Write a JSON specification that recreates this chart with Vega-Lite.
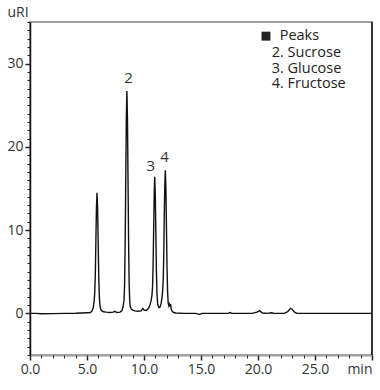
{
  "$schema": "https://vega.github.io/schema/vega-lite/v6.json",
  "width": 342,
  "height": 333,
  "autosize": "none",
  "padding": {"left": 30, "top": 22, "right": 8, "bottom": 35},
  "config": {
    "view": {"stroke": "#a0a0a0", "strokeWidth": 2},
    "font": "Open Sans",
    "axis": {"grid": false, "labelFont": "Open Sans", "labelFontSize": 14, "labelColor": "#333", "tickColor": "#222", "titleFont": "Open Sans"}
  },
  "datasets": {
    "trace": [
      {"t": 0.0, "v": 0.0}, {"t": 0.5, "v": 0.0}, {"t": 1.0, "v": -0.05}, {"t": 2.0, "v": -0.03}, {"t": 3.0, "v": 0.0},
      {"t": 4.0, "v": 0.02}, {"t": 4.5, "v": 0.05}, {"t": 5.0, "v": 0.08}, {"t": 5.3, "v": 0.1},
      {"t": 5.45, "v": 0.3}, {"t": 5.55, "v": 0.7}, {"t": 5.63, "v": 1.5}, {"t": 5.68, "v": 2.5}, {"t": 5.73, "v": 4.7},
      {"t": 5.78, "v": 8.8}, {"t": 5.83, "v": 12.8}, {"t": 5.88, "v": 14.5}, {"t": 5.93, "v": 12.6}, {"t": 5.98, "v": 8.5},
      {"t": 6.03, "v": 4.5}, {"t": 6.08, "v": 2.1}, {"t": 6.13, "v": 1.0}, {"t": 6.2, "v": 0.5}, {"t": 6.3, "v": 0.3},
      {"t": 6.45, "v": 0.2}, {"t": 6.7, "v": 0.15}, {"t": 7.0, "v": 0.1}, {"t": 7.3, "v": 0.15}, {"t": 7.45, "v": 0.25},
      {"t": 7.6, "v": 0.1}, {"t": 7.9, "v": 0.15}, {"t": 8.05, "v": 0.3}, {"t": 8.15, "v": 0.7}, {"t": 8.25, "v": 1.6},
      {"t": 8.3, "v": 3.6}, {"t": 8.35, "v": 8.7}, {"t": 8.4, "v": 16.2}, {"t": 8.45, "v": 23.5}, {"t": 8.5, "v": 26.7},
      {"t": 8.55, "v": 23.3}, {"t": 8.6, "v": 15.8}, {"t": 8.65, "v": 8.3}, {"t": 8.7, "v": 3.5}, {"t": 8.75, "v": 1.4},
      {"t": 8.8, "v": 0.8}, {"t": 8.9, "v": 0.5}, {"t": 9.0, "v": 0.4}, {"t": 9.2, "v": 0.3}, {"t": 9.5, "v": 0.25},
      {"t": 9.75, "v": 0.3}, {"t": 9.9, "v": 0.6}, {"t": 10.0, "v": 0.4}, {"t": 10.2, "v": 0.35}, {"t": 10.4, "v": 0.6},
      {"t": 10.52, "v": 1.0}, {"t": 10.62, "v": 1.5}, {"t": 10.7, "v": 2.2}, {"t": 10.75, "v": 3.2}, {"t": 10.8, "v": 5.8},
      {"t": 10.85, "v": 10.3}, {"t": 10.9, "v": 14.6}, {"t": 10.94, "v": 16.4}, {"t": 10.99, "v": 14.3}, {"t": 11.04, "v": 9.6},
      {"t": 11.09, "v": 5.0}, {"t": 11.14, "v": 2.3}, {"t": 11.2, "v": 1.1}, {"t": 11.3, "v": 0.7}, {"t": 11.4, "v": 0.75},
      {"t": 11.5, "v": 1.2}, {"t": 11.58, "v": 1.9}, {"t": 11.64, "v": 2.8}, {"t": 11.69, "v": 4.2}, {"t": 11.73, "v": 6.6},
      {"t": 11.77, "v": 10.8}, {"t": 11.82, "v": 15.2}, {"t": 11.87, "v": 17.2}, {"t": 11.92, "v": 15.1}, {"t": 11.97, "v": 10.3},
      {"t": 12.02, "v": 5.5}, {"t": 12.07, "v": 2.6}, {"t": 12.12, "v": 1.3}, {"t": 12.18, "v": 0.9}, {"t": 12.24, "v": 1.1},
      {"t": 12.28, "v": 0.8}, {"t": 12.33, "v": 1.1}, {"t": 12.38, "v": 0.6}, {"t": 12.45, "v": 0.3}, {"t": 12.6, "v": 0.1},
      {"t": 12.8, "v": 0.05}, {"t": 13.5, "v": 0.0}, {"t": 14.5, "v": 0.0}, {"t": 14.9, "v": -0.12}, {"t": 15.1, "v": 0.0},
      {"t": 16.0, "v": 0.0}, {"t": 17.4, "v": 0.0}, {"t": 17.55, "v": 0.1}, {"t": 17.7, "v": 0.0}, {"t": 19.5, "v": 0.0},
      {"t": 19.9, "v": 0.15}, {"t": 20.15, "v": 0.3}, {"t": 20.4, "v": 0.05}, {"t": 20.8, "v": 0.0}, {"t": 21.2, "v": 0.08},
      {"t": 21.4, "v": 0.0}, {"t": 22.3, "v": 0.0}, {"t": 22.6, "v": 0.2}, {"t": 22.85, "v": 0.6}, {"t": 23.0, "v": 0.5},
      {"t": 23.2, "v": 0.15}, {"t": 23.4, "v": 0.0}, {"t": 26.0, "v": 0.0}, {"t": 30.0, "v": 0.0}
    ],
    "peaklabels": [
      {"t": 8.65, "v": 28.3, "label": "2"},
      {"t": 10.6, "v": 17.7, "label": "3"},
      {"t": 11.8, "v": 18.8, "label": "4"}
    ],
    "legend": [
      {"t": 21.9, "v": 33.3, "label": "Peaks"},
      {"t": 21.2, "v": 31.3, "label": "2. Sucrose"},
      {"t": 21.2, "v": 29.4, "label": "3. Glucose"},
      {"t": 21.2, "v": 27.5, "label": "4. Fructose"}
    ],
    "legendbox": [{"t": 20.7, "v": 33.3}],
    "border": [{"t": 30}]
  },
  "layer": [
    {
      "data": {"name": "trace"},
      "mark": {"type": "line", "color": "#111", "strokeWidth": 1.4},
      "encoding": {
        "x": {"field": "t", "type": "quantitative", "scale": {"domain": [0, 30], "nice": false, "zero": false},
              "axis": {"orient": "bottom", "title": null, "values": [0, 5, 10, 15, 20, 25, 30], "labelExpr": "datum.value == 30 ? 'min' : format(datum.value, '.1f')", "labelAlign": {"condition": {"test": "datum.value == 30", "value": "right"}, "value": "center"}, "tickSize": 5, "tickWidth": 1.5, "domainColor": "#a0a0a0", "domainWidth": 2, "labelPadding": 2, "labelFlush": false}},
        "y": {"field": "v", "type": "quantitative", "scale": {"domain": [-5, 35], "nice": false, "zero": false},
              "axis": {"orient": "left", "title": "uRI", "titleAngle": 0, "titleAlign": "left", "titleBaseline": "alphabetic", "titleX": -23, "titleY": -6, "titleFontSize": 14, "titleFontWeight": "normal", "titleColor": "#333", "values": [0, 10, 20, 30], "tickSize": 5, "tickWidth": 1.5, "domainColor": "#111", "domainWidth": 1.5, "labelPadding": 2}}
      }
    },
    {
      "data": {"name": "border"},
      "mark": {"type": "rule", "color": "#111", "strokeWidth": 1.5},
      "encoding": {
        "x": {"field": "t", "type": "quantitative",
              "axis": {"orient": "bottom", "title": null, "values": [0,1,2,3,4,5,6,7,8,9,10,11,12,13,14,15,16,17,18,19,20,21,22,23,24,25,26,27,28,29,30], "labels": false, "domain": false, "tickSize": 3}}
      }
    },
    {
      "data": {"name": "peaklabels"},
      "mark": {"type": "text", "fontSize": 15, "color": "#333", "baseline": "middle", "align": "center"},
      "encoding": {
        "x": {"field": "t", "type": "quantitative", "axis": null},
        "y": {"field": "v", "type": "quantitative",
              "axis": {"orient": "left", "title": null, "values": [-5,-4,-3,-2,-1,0,1,2,3,4,5,6,7,8,9,10,11,12,13,14,15,16,17,18,19,20,21,22,23,24,25,26,27,28,29,30,31,32,33,34,35], "labels": false, "domain": false, "tickSize": 3}},
        "text": {"field": "label"}
      }
    },
    {
      "data": {"name": "legendbox"},
      "mark": {"type": "square", "filled": true, "color": "#222", "size": 80, "opacity": 1},
      "encoding": {
        "x": {"field": "t", "type": "quantitative", "axis": null},
        "y": {"field": "v", "type": "quantitative", "axis": null}
      }
    },
    {
      "data": {"name": "legend"},
      "mark": {"type": "text", "fontSize": 14.5, "color": "#222", "baseline": "middle", "align": "left"},
      "encoding": {
        "x": {"field": "t", "type": "quantitative", "axis": null},
        "y": {"field": "v", "type": "quantitative", "axis": null},
        "text": {"field": "label"}
      }
    }
  ],
  "resolve": {"axis": {"x": "independent", "y": "independent"}}
}
